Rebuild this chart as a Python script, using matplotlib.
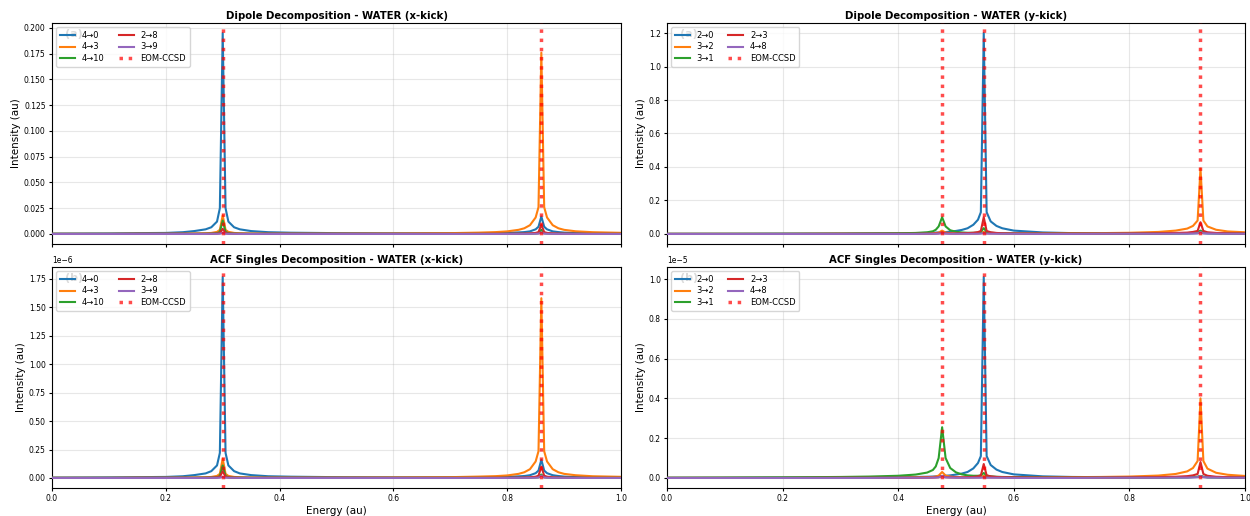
import numpy as np
import matplotlib
matplotlib.use("Agg")
import matplotlib.pyplot as plt

# energy grids (au) for the two kick directions
energy_x = [0.00, 0.10, 0.15, 0.20, 0.23, 0.25, 0.27, 0.28, 0.29, 0.295,
            0.300, 0.305, 0.31, 0.32, 0.33, 0.35, 0.38, 0.42, 0.50, 0.60,
            0.70, 0.75, 0.78, 0.80, 0.82, 0.83, 0.84, 0.85, 0.855, 0.86,
            0.865, 0.87, 0.88, 0.89, 0.90, 0.92, 0.95, 1.00]
energy_y = [0.00, 0.10, 0.20, 0.30, 0.35, 0.40, 0.43, 0.45, 0.46, 0.465,
            0.47, 0.476, 0.482, 0.49, 0.50, 0.51, 0.52, 0.53, 0.538, 0.543,
            0.548, 0.553, 0.56, 0.57, 0.58, 0.60, 0.65, 0.70, 0.75, 0.80,
            0.85, 0.88, 0.90, 0.91, 0.918, 0.923, 0.928, 0.935, 0.95, 0.97,
            1.00]

eom_x = [0.300, 0.86]
eom_y = [0.476, 0.548, 0.923]

labels_x = ["4\u21920", "4\u21923", "4\u219210", "2\u21928", "3\u21929"]
labels_y = ["2\u21920", "3\u21922", "3\u21921", "2\u21923", "4\u21928"]

# ---- dipole decomposition, x-kick ----
dip_x_40 = [0.0003, 0.0005, 0.0008, 0.0010, 0.0017, 0.0028, 0.0045, 0.0065, 0.0120, 0.0250,
            0.1950, 0.0250, 0.0120, 0.0065, 0.0045, 0.0028, 0.0017, 0.0012, 0.0008, 0.0006,
            0.0006, 0.0007, 0.0009, 0.0011, 0.0015, 0.0018, 0.0025, 0.0045, 0.0070, 0.0170,
            0.0070, 0.0045, 0.0025, 0.0018, 0.0013, 0.0009, 0.0006, 0.0004]
dip_x_43 = [0.0001, 0.0001, 0.0002, 0.0002, 0.0003, 0.0004, 0.0006, 0.0010, 0.0020, 0.0040,
            0.0180, 0.0040, 0.0020, 0.0010, 0.0006, 0.0004, 0.0003, 0.0003, 0.0003, 0.0004,
            0.0008, 0.0013, 0.0018, 0.0025, 0.0040, 0.0055, 0.0085, 0.0160, 0.0260, 0.1760,
            0.0260, 0.0160, 0.0085, 0.0055, 0.0040, 0.0026, 0.0017, 0.0011]
dip_x_410 = [0.0001, 0.0001, 0.0001, 0.0001, 0.0001, 0.0002, 0.0003, 0.0004, 0.0008, 0.0020,
             0.0130, 0.0020, 0.0008, 0.0004, 0.0003, 0.0002, 0.0001, 0.0001, 0.0001, 0.0001,
             0.0001, 0.0001, 0.0001, 0.0001, 0.0002, 0.0002, 0.0003, 0.0004, 0.0008, 0.0040,
             0.0008, 0.0004, 0.0003, 0.0002, 0.0002, 0.0001, 0.0001, 0.0001]
dip_x_28 = [0.0000, 0.0000, 0.0001, 0.0001, 0.0001, 0.0001, 0.0002, 0.0002, 0.0004, 0.0009,
            0.0050, 0.0009, 0.0004, 0.0002, 0.0002, 0.0001, 0.0001, 0.0001, 0.0001, 0.0001,
            0.0001, 0.0001, 0.0002, 0.0002, 0.0003, 0.0004, 0.0006, 0.0010, 0.0018, 0.0090,
            0.0018, 0.0010, 0.0006, 0.0004, 0.0003, 0.0002, 0.0001, 0.0001]
dip_x_39 = [0.0000, 0.0000, 0.0000, 0.0000, 0.0000, 0.0000, 0.0000, 0.0001, 0.0001, 0.0002,
            0.0012, 0.0002, 0.0001, 0.0001, 0.0000, 0.0000, 0.0000, 0.0000, 0.0000, 0.0000,
            0.0000, 0.0000, 0.0000, 0.0000, 0.0001, 0.0001, 0.0001, 0.0002, 0.0003, 0.0015,
            0.0003, 0.0002, 0.0001, 0.0001, 0.0001, 0.0000, 0.0000, 0.0000]

# ---- ACF singles decomposition, x-kick (x 1e-6) ----
acf_x_40 = [0.003, 0.005, 0.007, 0.009, 0.015, 0.025, 0.040, 0.060, 0.110, 0.220,
            1.766, 0.220, 0.110, 0.060, 0.040, 0.025, 0.015, 0.011, 0.007, 0.005,
            0.005, 0.006, 0.008, 0.010, 0.014, 0.017, 0.024, 0.042, 0.065, 0.160,
            0.065, 0.042, 0.024, 0.017, 0.012, 0.008, 0.005, 0.004]
acf_x_43 = [0.001, 0.001, 0.002, 0.002, 0.003, 0.004, 0.006, 0.009, 0.018, 0.036,
            0.170, 0.036, 0.018, 0.009, 0.006, 0.004, 0.003, 0.003, 0.003, 0.004,
            0.007, 0.012, 0.016, 0.022, 0.036, 0.050, 0.077, 0.145, 0.235, 1.580,
            0.235, 0.145, 0.077, 0.050, 0.036, 0.024, 0.015, 0.010]
acf_x_410 = [0.001, 0.001, 0.001, 0.001, 0.001, 0.002, 0.003, 0.004, 0.007, 0.017,
             0.110, 0.017, 0.007, 0.004, 0.003, 0.002, 0.001, 0.001, 0.001, 0.001,
             0.001, 0.001, 0.001, 0.001, 0.002, 0.002, 0.003, 0.004, 0.006, 0.030,
             0.006, 0.004, 0.003, 0.002, 0.002, 0.001, 0.001, 0.001]
acf_x_28 = [0.000, 0.000, 0.001, 0.001, 0.001, 0.001, 0.002, 0.003, 0.005, 0.010,
            0.060, 0.010, 0.005, 0.003, 0.002, 0.001, 0.001, 0.001, 0.001, 0.001,
            0.001, 0.001, 0.002, 0.002, 0.003, 0.004, 0.006, 0.011, 0.020, 0.100,
            0.020, 0.011, 0.006, 0.004, 0.003, 0.002, 0.001, 0.001]
acf_x_39 = [0.000, 0.000, 0.000, 0.000, 0.000, 0.000, 0.000, 0.001, 0.001, 0.002,
            0.010, 0.002, 0.001, 0.001, 0.000, 0.000, 0.000, 0.000, 0.000, 0.000,
            0.000, 0.000, 0.000, 0.000, 0.001, 0.001, 0.001, 0.002, 0.004, 0.020,
            0.004, 0.002, 0.001, 0.001, 0.001, 0.000, 0.000, 0.000]

# ---- dipole decomposition, y-kick ----
dip_y_20 = [0.001, 0.001, 0.002, 0.002, 0.003, 0.004, 0.005, 0.006, 0.007, 0.008,
            0.009, 0.010, 0.011, 0.014, 0.018, 0.024, 0.034, 0.055, 0.085, 0.130,
            1.200, 0.130, 0.075, 0.048, 0.034, 0.020, 0.009, 0.005, 0.004, 0.003,
            0.003, 0.003, 0.003, 0.004, 0.005, 0.012, 0.005, 0.003, 0.003, 0.002,
            0.002]
dip_y_32 = [0.0005, 0.0005, 0.0005, 0.001, 0.001, 0.0015, 0.002, 0.003, 0.004, 0.005,
            0.008, 0.020, 0.008, 0.005, 0.003, 0.003, 0.003, 0.003, 0.004, 0.005,
            0.012, 0.005, 0.004, 0.003, 0.003, 0.003, 0.003, 0.004, 0.005, 0.007,
            0.012, 0.020, 0.032, 0.048, 0.080, 0.390, 0.080, 0.045, 0.025, 0.015,
            0.010]
dip_y_31 = [0.0005, 0.001, 0.001, 0.002, 0.003, 0.004, 0.006, 0.010, 0.016, 0.025,
            0.045, 0.100, 0.045, 0.022, 0.013, 0.009, 0.007, 0.007, 0.008, 0.012,
            0.035, 0.012, 0.007, 0.005, 0.004, 0.003, 0.002, 0.002, 0.002, 0.002,
            0.003, 0.004, 0.005, 0.007, 0.010, 0.020, 0.010, 0.006, 0.004, 0.003,
            0.002]
dip_y_23 = [0.000, 0.000, 0.000, 0.001, 0.001, 0.001, 0.001, 0.002, 0.002, 0.003,
            0.004, 0.010, 0.004, 0.003, 0.003, 0.004, 0.005, 0.007, 0.011, 0.018,
            0.100, 0.018, 0.010, 0.006, 0.004, 0.003, 0.002, 0.002, 0.002, 0.003,
            0.004, 0.006, 0.008, 0.012, 0.018, 0.070, 0.018, 0.010, 0.006, 0.004,
            0.003]
dip_y_48 = [0.000, 0.000, 0.000, 0.000, 0.000, 0.000, 0.000, 0.001, 0.001, 0.001,
            0.002, 0.004, 0.002, 0.001, 0.001, 0.001, 0.001, 0.001, 0.001, 0.002,
            0.005, 0.002, 0.001, 0.001, 0.001, 0.001, 0.000, 0.000, 0.001, 0.001,
            0.001, 0.002, 0.002, 0.003, 0.004, 0.012, 0.004, 0.003, 0.002, 0.001,
            0.001]

# ---- ACF singles decomposition, y-kick (x 1e-5) ----
acf_y_20 = [0.001, 0.001, 0.002, 0.002, 0.003, 0.004, 0.005, 0.006, 0.007, 0.008,
            0.009, 0.010, 0.011, 0.013, 0.017, 0.022, 0.030, 0.048, 0.075, 0.110,
            1.010, 0.110, 0.065, 0.042, 0.030, 0.018, 0.008, 0.005, 0.004, 0.003,
            0.003, 0.003, 0.003, 0.004, 0.005, 0.010, 0.005, 0.003, 0.003, 0.002,
            0.002]
acf_y_32 = [0.0005, 0.0005, 0.0005, 0.001, 0.001, 0.002, 0.003, 0.004, 0.005, 0.007,
            0.012, 0.030, 0.012, 0.007, 0.004, 0.003, 0.003, 0.003, 0.004, 0.005,
            0.010, 0.005, 0.004, 0.003, 0.003, 0.003, 0.003, 0.004, 0.005, 0.007,
            0.012, 0.020, 0.033, 0.050, 0.085, 0.400, 0.085, 0.047, 0.026, 0.016,
            0.010]
acf_y_31 = [0.001, 0.002, 0.003, 0.005, 0.007, 0.011, 0.017, 0.027, 0.040, 0.058,
            0.100, 0.255, 0.100, 0.050, 0.028, 0.018, 0.013, 0.011, 0.011, 0.013,
            0.025, 0.012, 0.008, 0.006, 0.005, 0.004, 0.003, 0.002, 0.002, 0.002,
            0.002, 0.003, 0.004, 0.005, 0.006, 0.010, 0.006, 0.004, 0.003, 0.002,
            0.002]
acf_y_23 = [0.000, 0.000, 0.000, 0.001, 0.001, 0.001, 0.001, 0.002, 0.002, 0.003,
            0.004, 0.010, 0.004, 0.003, 0.003, 0.003, 0.004, 0.005, 0.008, 0.013,
            0.070, 0.013, 0.008, 0.005, 0.004, 0.003, 0.002, 0.002, 0.002, 0.003,
            0.004, 0.006, 0.009, 0.013, 0.020, 0.080, 0.020, 0.011, 0.006, 0.004,
            0.003]
acf_y_48 = [0.000, 0.000, 0.000, 0.000, 0.000, 0.001, 0.001, 0.001, 0.002, 0.002,
            0.003, 0.010, 0.003, 0.002, 0.001, 0.001, 0.001, 0.001, 0.001, 0.001,
            0.003, 0.001, 0.001, 0.001, 0.001, 0.000, 0.000, 0.000, 0.001, 0.001,
            0.001, 0.002, 0.002, 0.003, 0.004, 0.010, 0.004, 0.003, 0.002, 0.001,
            0.001]

panels = [
    # (row, col, title, panel tag, energy, series, scale, labels, eom)
    (0, 0, "Dipole Decomposition - WATER (x-kick)", "(a)", energy_x,
     [dip_x_40, dip_x_43, dip_x_410, dip_x_28, dip_x_39], 1.0, labels_x, eom_x),
    (1, 0, "ACF Singles Decomposition - WATER (x-kick)", "(b)", energy_x,
     [acf_x_40, acf_x_43, acf_x_410, acf_x_28, acf_x_39], 1e-6, labels_x, eom_x),
    (0, 1, "Dipole Decomposition - WATER (y-kick)", "(a)", energy_y,
     [dip_y_20, dip_y_32, dip_y_31, dip_y_23, dip_y_48], 1.0, labels_y, eom_y),
    (1, 1, "ACF Singles Decomposition - WATER (y-kick)", "(b)", energy_y,
     [acf_y_20, acf_y_32, acf_y_31, acf_y_23, acf_y_48], 1e-5, labels_y, eom_y),
]

colors = ["tab:blue", "tab:orange", "tab:green", "tab:red", "tab:purple"]

W, H = 1250, 516
fig = plt.figure(figsize=(W / 100, H / 100), dpi=100)

# axes boxes in pixels: (left, right, top, bottom)
cols_px = [(52, 621), (667, 1245)]
rows_px = [(23, 244), (267, 488)]

axes = {}
for c, (l, r) in enumerate(cols_px):
    for rw, (t, b) in enumerate(rows_px):
        rect = [l / W, 1 - b / H, (r - l) / W, (b - t) / H]
        share = axes.get((0, c))
        axes[(rw, c)] = fig.add_axes(rect, sharex=share)

for row, col, title, tag, energy, series, scale, labels, eom in panels:
    ax = axes[(row, col)]
    ax.text(0.023, 0.975, tag, transform=ax.transAxes, fontsize=8,
            fontweight="bold", va="top", ha="left", color="0.3", zorder=1)
    for vals, lab, c in zip(series, labels, colors):
        ax.plot(energy, np.asarray(vals) * scale, color=c, lw=1.5, label=lab, zorder=3)
    for i, e in enumerate(eom):
        ax.axvline(e, color="red", ls=":", lw=2.5, alpha=0.7, zorder=4,
                   label="EOM-CCSD" if i == 0 else None)
    ax.set_xlim(0, 1)
    ax.set_title(title, fontsize=7.3, fontweight="bold", pad=3)
    ax.set_ylabel("Intensity (au)", fontsize=7.5, labelpad=2)
    ax.grid(True, alpha=0.3)
    ax.tick_params(labelsize=5.5, length=2.5, pad=2)
    ax.yaxis.get_offset_text().set_fontsize(5.5)
    leg = ax.legend(loc="upper left", ncol=2, fontsize=6, framealpha=0.8,
                    handlelength=1.8, handletextpad=0.8, columnspacing=1.7,
                    borderpad=0.45, labelspacing=0.3)
    leg.set_zorder(5)
    if row == 1:
        ax.set_xlabel("Energy (au)", fontsize=7.5, labelpad=2)
    else:
        ax.tick_params(labelbottom=False)

fig.savefig("out.png", dpi=100)
